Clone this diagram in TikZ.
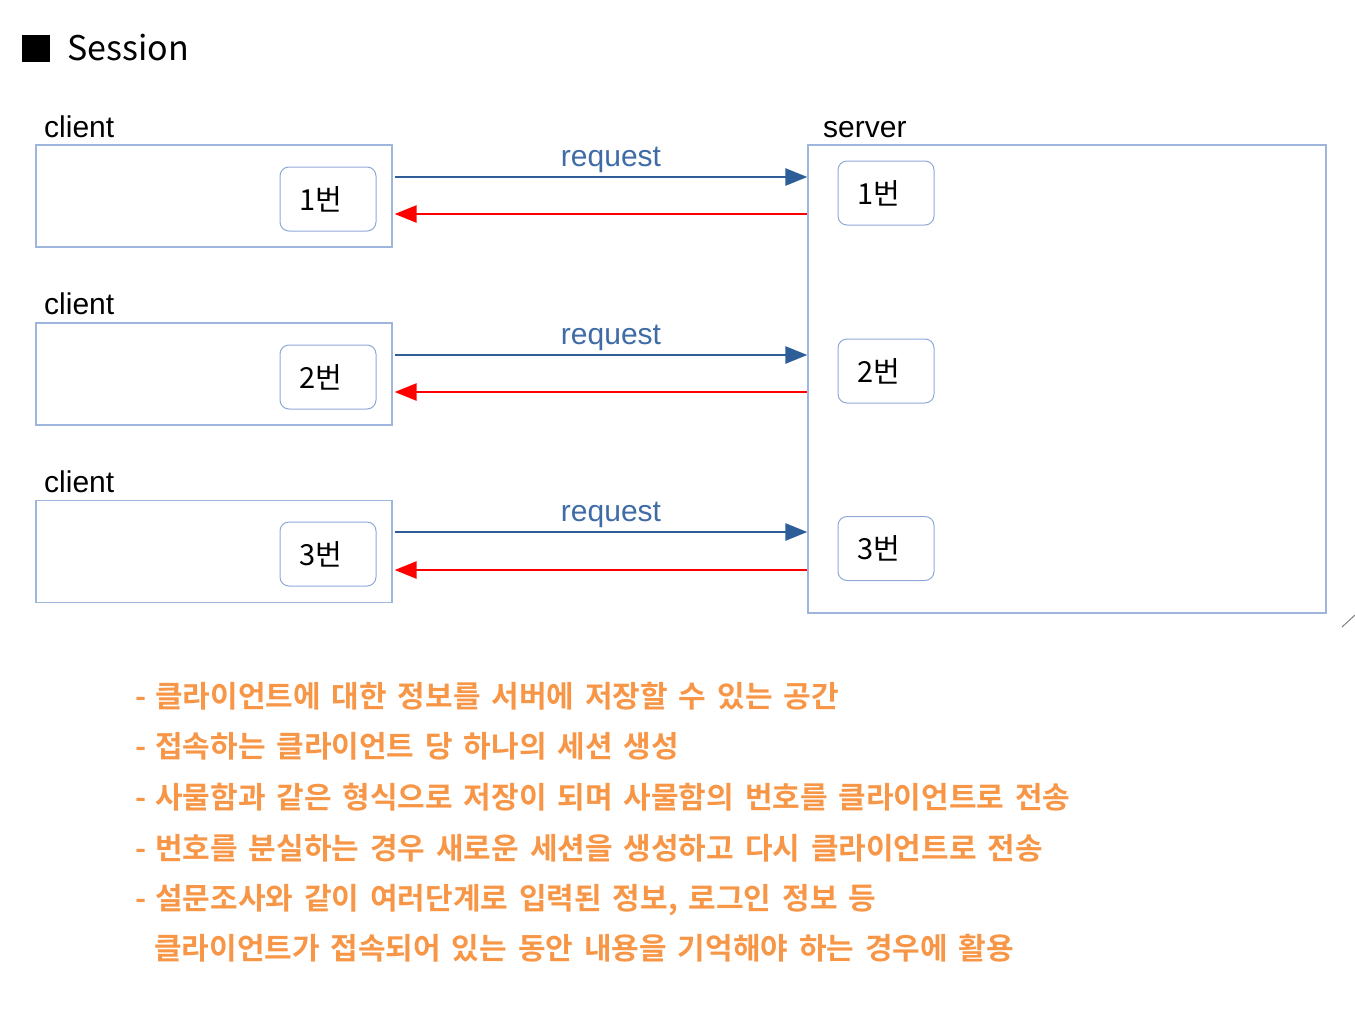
\documentclass[tikz,border=0pt]{standalone}
\usepackage{fontspec}
\usetikzlibrary{arrows.meta}
\setmainfont{Liberation Sans}
\newfontfamily\kr{Noto Sans CJK KR}
\newfontfamily\krb{Noto Sans CJK KR Bold}[WordSpace=1.6]
\definecolor{boxline}{HTML}{9FB6DC}
\definecolor{innerline}{HTML}{8EA9D6}
\definecolor{reqblue}{HTML}{2E5E98}
\definecolor{reqtext}{HTML}{3F6BA6}
\definecolor{orangetxt}{HTML}{F79646}
\tikzset{
  outerbox/.style={draw=boxline, line width=1.3pt, minimum width=356pt, minimum height=102pt, inner sep=0pt},
  serverbox/.style={draw=boxline, line width=1.3pt, minimum width=518pt, minimum height=468pt, inner sep=0pt},
  numbox/.style={draw=innerline, line width=1pt, rounded corners=9pt, minimum width=96pt, minimum height=64pt, inner sep=0pt, font=\kr\fontsize{29}{30}\selectfont},
  lbl/.style={anchor=base west, inner sep=0pt, font=\fontsize{30}{32}\selectfont},
  reqarrow/.style={draw=reqblue, line width=2.6pt, -{Triangle[length=22pt,width=17pt]}},
  resarrow/.style={draw=red, line width=2.6pt, -{Triangle[length=22pt,width=17pt]}},
  reqlabel/.style={above, inner sep=3pt, xshift=10pt, text=reqtext, font=\fontsize{30}{32}\selectfont},
  note/.style={anchor=base west, inner sep=0pt, text=orangetxt, font=\krb\fontsize{30}{32}\selectfont}
}
\newcommand{\numtxt}[1]{#1\kern15pt\relax}
\newcommand{\dashgap}{-\hspace{9pt}}
\begin{document}
\begin{tikzpicture}[x=1pt,y=-1pt]
\useasboundingbox (0,0) rectangle (1355,1031);
% title
\fill (22,35) rectangle (50,62);
\node[anchor=base west, inner sep=0pt, font=\kr\fontsize{34}{36}\selectfont] (title) at (67,60) {Session};
% client boxes
\node[outerbox] (cb1) at (214,196) {};
\node[outerbox] (cb2) at (214,374) {};
\node[outerbox] (cb3) at (214,551.5) {};
\node[lbl] (cl1) at (44,137) {client};
\node[lbl] (cl2) at (44,314) {client};
\node[lbl] (cl3) at (44,492) {client};
\node[numbox] (c1) at (328,199) {\numtxt{1번}};
\node[numbox] (c2) at (328,377) {\numtxt{2번}};
\node[numbox] (c3) at (328,554) {\numtxt{3번}};
% server
\node[serverbox] (sv) at (1067,379) {};
\node[lbl] (svl) at (823,137) {server};
\node[numbox] (s1) at (886,193) {\numtxt{1번}};
\node[numbox] (s2) at (886,371) {\numtxt{2번}};
\node[numbox] (s3) at (886,548.5) {\numtxt{3번}};
% arrows
\coordinate (r1) at (0,177); \coordinate (b1) at (0,214);
\coordinate (r2) at (0,355); \coordinate (b2) at (0,392);
\coordinate (r3) at (0,532); \coordinate (b3) at (0,570);
\draw[reqarrow] ([xshift=2pt]cb1.east |- r1) -- node[reqlabel] {request} (sv.west |- r1);
\draw[resarrow] (sv.west |- b1) -- ([xshift=2pt]cb1.east |- b1);
\draw[reqarrow] ([xshift=2pt]cb2.east |- r2) -- node[reqlabel] {request} (sv.west |- r2);
\draw[resarrow] (sv.west |- b2) -- ([xshift=2pt]cb2.east |- b2);
\draw[reqarrow] ([xshift=2pt]cb3.east |- r3) -- node[reqlabel] {request} (sv.west |- r3);
\draw[resarrow] (sv.west |- b3) -- ([xshift=2pt]cb3.east |- b3);
% small mark
\draw[gray, line width=1pt] (1342,627) -- (1355,615);
% notes
\node[note] (n1) at (135,707) {\dashgap 클라이언트에 대한 정보를 서버에 저장할 수 있는 공간};
\node[note] (n2) at (135,757) {\dashgap 접속하는 클라이언트 당 하나의 세션 생성};
\node[note] (n3) at (135,808) {\dashgap 사물함과 같은 형식으로 저장이 되며 사물함의 번호를 클라이언트로 전송};
\node[note] (n4) at (135,859) {\dashgap 번호를 분실하는 경우 새로운 세션을 생성하고 다시 클라이언트로 전송};
\node[note] (n5) at (135,909) {\dashgap 설문조사와 같이 여러단계로 입력된 정보, 로그인 정보 등};
\node[note] (n6) at (154,959) {클라이언트가 접속되어 있는 동안 내용을 기억해야 하는 경우에 활용};
\end{tikzpicture}
\end{document}
